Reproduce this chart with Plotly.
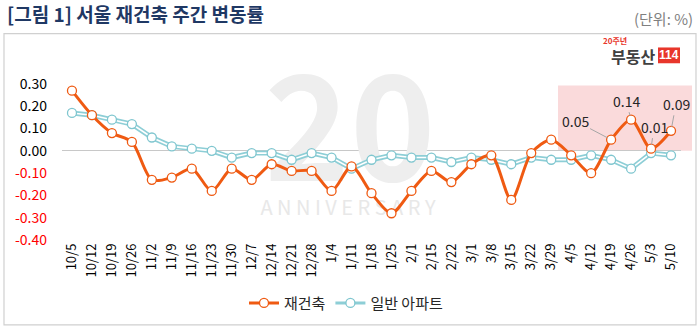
import plotly.graph_objects as go

# ---- data ----
dates = ["10/5", "10/12", "10/19", "10/26", "11/2", "11/9", "11/16", "11/23", "11/30",
         "12/7", "12/14", "12/21", "12/28", "1/4", "1/11", "1/18", "1/25", "2/1",
         "2/15", "2/22", "3/1", "3/8", "3/15", "3/22", "3/29", "4/5", "4/12", "4/19",
         "4/26", "5/3", "5/10"]
rebuild = [0.27, 0.16, 0.08, 0.04, -0.13, -0.12, -0.08, -0.18, -0.08,
           -0.13, -0.06, -0.09, -0.09, -0.18, -0.07, -0.19, -0.28, -0.18,
           -0.09, -0.14, -0.06, -0.02, -0.22, -0.01, 0.05, -0.02, -0.10, 0.05,
           0.14, 0.01, 0.09]
apt = [0.17, 0.16, 0.14, 0.12, 0.06, 0.02, 0.01, 0.00, -0.03,
       -0.01, -0.01, -0.04, -0.01, -0.03, -0.08, -0.04, -0.02, -0.03,
       -0.03, -0.05, -0.03, -0.04, -0.06, -0.03, -0.04, -0.04, -0.02, -0.04,
       -0.08, -0.01, -0.02]
ytick_vals = [0.3, 0.2, 0.1, 0.0, -0.1, -0.2, -0.3, -0.4]
labelled = ["4/19", "4/26", "5/3", "5/10"]
series_names = ["재건축", "일반 아파트"]

W, H = 700, 332
L, R, T, B = 62, 681, 84, 242
FONT = "Noto Sans CJK KR"
ORANGE = "#EF5A12"
TEAL = "#8DCED6"
xi = list(range(len(dates)))

def xp(px):
    return (px - L) / (R - L)

def yp(py):
    return (B - py) / (B - T)

def xd(px):  # pixel -> x axis value
    return (px - L) / (R - L) * len(dates) - 0.5

def yd(py):
    return 0.3 - (py - T) / (B - T) * 0.7

fig = go.Figure()

# watermark (decoration, behind the data)
fig.add_trace(go.Scatter(x=[xd(350)], y=[yd(146)], mode="text", text=["<b>20</b>"],
                         textfont=dict(family=FONT, size=145, color="#EEEEEE"),
                         hoverinfo="skip", showlegend=False, cliponaxis=False))
fig.add_trace(go.Scatter(x=[xd(348)], y=[yd(212)], mode="text",
                         text=["A N N I V E R S A R Y"],
                         textfont=dict(family=FONT, size=20, color="#E8E8E8"),
                         hoverinfo="skip", showlegend=False, cliponaxis=False))
fig.add_trace(go.Scatter(x=[xd(350)], y=[yd(254)], mode="text",
                         text=["<b>부동산114</b>"],
                         textfont=dict(family=FONT, size=36, color="#F3F3F3"),
                         hoverinfo="skip", showlegend=False, cliponaxis=False))

# 일반 아파트 : double line look
fig.add_trace(go.Scatter(x=xi, y=apt, mode="lines",
                         line=dict(color=TEAL, width=5), hoverinfo="skip",
                         showlegend=False))
fig.add_trace(go.Scatter(x=xi, y=apt, mode="lines",
                         line=dict(color="white", width=1.6), hoverinfo="skip",
                         showlegend=False))
fig.add_trace(go.Scatter(x=xi, y=apt, mode="markers", name=series_names[1],
                         marker=dict(symbol="circle", size=9, color="white",
                                     line=dict(color="#7FC6CF", width=1.3)),
                         showlegend=False))
# 재건축
fig.add_trace(go.Scatter(x=xi, y=rebuild, mode="lines+markers", name=series_names[0],
                         line=dict(color=ORANGE, width=3, shape="spline", smoothing=0.8),
                         marker=dict(symbol="circle", size=9, color="white",
                                     line=dict(color=ORANGE, width=1.3))))
# legend entry for 일반 아파트
fig.add_trace(go.Scatter(x=[None], y=[None], mode="lines+markers", name=series_names[1],
                         line=dict(color=TEAL, width=3),
                         marker=dict(symbol="circle", size=9, color="white",
                                     line=dict(color="#7FC6CF", width=1.3))))

# data labels with leader lines
offsets = {"4/19": (-36, -19), "4/26": (-5, -19), "5/3": (3, -22), "5/10": (5, -27)}
annotations = []
for d in labelled:
    i = dates.index(d)
    ax, ay = offsets[d]
    annotations.append(dict(x=i, y=rebuild[i], xref="x", yref="y",
                            text=f"{rebuild[i]:.2f}", showarrow=True, arrowhead=0,
                            arrowwidth=1, arrowcolor="#A6A6A6", ax=ax, ay=ay,
                            standoff=4, font=dict(family=FONT, size=14, color="#262626")))

# title and unit
annotations.append(dict(x=xp(5), y=yp(13), xref="paper", yref="paper",
                        text="<b>[그림 1] 서울 재건축 주간 변동률</b>", showarrow=False,
                        xanchor="left", yanchor="middle",
                        font=dict(family=FONT, size=19, color="#1F3864")))
annotations.append(dict(x=xp(695), y=yp(18), xref="paper", yref="paper",
                        text="(단위: %)", showarrow=False, xanchor="right", yanchor="middle",
                        font=dict(family=FONT, size=15, color="#7F7F7F")))
# logo
annotations.append(dict(x=xp(601), y=yp(40), xref="paper", yref="paper",
                        text="<b>20주년</b>", showarrow=False, xanchor="left", yanchor="middle",
                        font=dict(family=FONT, size=8, color="#E8362B")))
annotations.append(dict(x=xp(657), y=yp(56), xref="paper", yref="paper",
                        text="<b>부동산</b>", showarrow=False, xanchor="right", yanchor="middle",
                        font=dict(family=FONT, size=16, color="#404040")))
annotations.append(dict(x=xp(669), y=yp(55), xref="paper", yref="paper",
                        text="<b>114</b>", showarrow=False, xanchor="center", yanchor="middle",
                        font=dict(family="Liberation Sans Narrow, Liberation Sans", size=12,
                                  color="white")))

shapes = [
    dict(type="rect", xref="paper", yref="paper", x0=xp(4), x1=xp(696), y0=yp(33), y1=yp(328),
         line=dict(color="#D0D0D0", width=1.2), fillcolor="rgba(0,0,0,0)", layer="below"),
    dict(type="rect", xref="paper", yref="paper", x0=xp(558), x1=xp(692), y0=yp(85.5),
         y1=yp(151.7), line=dict(width=0), fillcolor="#FADADB", layer="below"),
    dict(type="rect", xref="paper", yref="paper", x0=xp(658), x1=xp(680), y0=yp(47),
         y1=yp(63), line=dict(width=0), fillcolor="#E8362B", layer="below"),
]

ticktext = []
for v in ytick_vals:
    s = f"{v:.2f}"
    if v < 0:
        s = f'<span style="color:#FF0000">{s}</span>'
    ticktext.append(s)

fig.update_layout(
    width=W, height=H,
    margin=dict(l=L, r=W - R, t=T, b=H - B),
    paper_bgcolor="white", plot_bgcolor="rgba(0,0,0,0)",
    font=dict(family=FONT, size=13, color="#000000"),
    showlegend=True,
    legend=dict(orientation="h", x=xp(346), xanchor="center", y=yp(306), yanchor="middle",
                font=dict(family=FONT, size=15, color="#262626"), bgcolor="rgba(0,0,0,0)",
                itemwidth=30),
    annotations=annotations,
    shapes=shapes,
    xaxis=dict(range=[-0.5, len(dates) - 0.5], tickvals=xi, ticktext=dates,
               showgrid=False, zeroline=False,
               showline=False, ticks="", tickangle=-90,
               tickfont=dict(family=FONT, size=13, color="#000000")),
    yaxis=dict(range=[-0.4, 0.3], tickvals=ytick_vals, ticktext=ticktext,
               showgrid=False, zeroline=True, zerolinecolor="#C8C8C8", zerolinewidth=1,
               showline=False, ticks="", ticklabelstandoff=14,
               tickfont=dict(family=FONT, size=14, color="#000000")),
)

fig.write_html("out.html")
